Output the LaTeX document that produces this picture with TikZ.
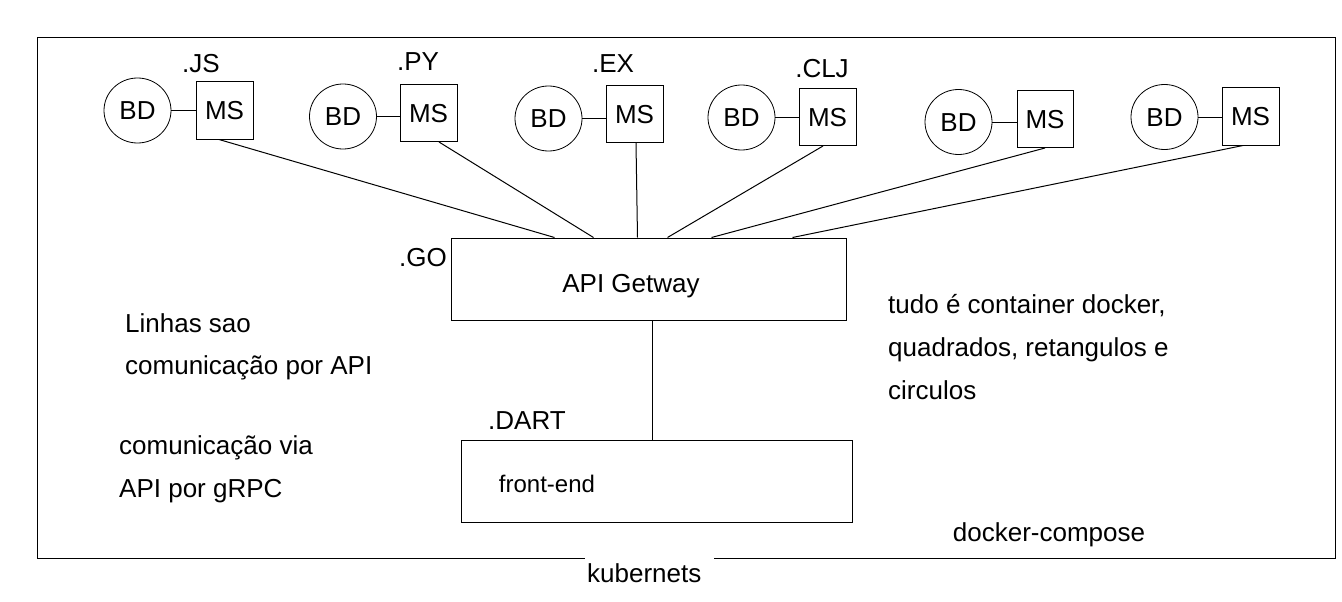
\documentclass[tikz,border=0pt]{standalone}
\usepackage{fontspec}
\setmainfont{Liberation Sans}
\usetikzlibrary{shapes.geometric}
\begin{document}
\begin{tikzpicture}[x=1pt,y=-1pt,
  txt/.style={inner sep=0pt,text height=18.6pt,text depth=0pt,font=\fontsize{26}{31}\selectfont},
  bd/.style={txt,draw,ellipse,line width=0.8pt,minimum width=67pt,minimum height=65pt},
  ms/.style={txt,draw,rectangle,line width=1pt,minimum width=57pt,minimum height=57pt},
  bigbox/.style={draw,rectangle,line width=1pt,minimum height=82pt,inner sep=0pt},
  link/.style={line width=1pt}]
\useasboundingbox (0,0) rectangle (1342,602);
% frame
\node[draw,rectangle,line width=1pt,minimum width=1298pt,minimum height=520pt,inner sep=0pt] (frame) at (686,298) {};
\node[txt,fill=white,anchor=west,inner xsep=2pt,inner ysep=8pt] (kub) at (585,573) {kubernets\kern11pt};
\node[txt] (dc) at (1049,532) {docker-compose};
% groups
\node[bd] (bd1) at (137.5,110.5) {BD};
\node[ms] (ms1) at (224.5,110.5) {MS};
\node[txt] (lb1) at (201,63) {.JS};
\node[bd] (bd2) at (343,116.5) {BD};
\node[ms] (ms2) at (428.5,113) {MS};
\node[txt] (lb2) at (418,61) {.PY};
\node[bd] (bd3) at (548.5,118.5) {BD};
\node[ms] (ms3) at (634.5,114) {MS};
\node[txt] (lb3) at (613,63) {.EX};
\node[bd] (bd4) at (741.5,117.5) {BD};
\node[ms] (ms4) at (827.5,117) {MS};
\node[txt] (lb4) at (822,68) {.CLJ};
\node[bd] (bd5) at (958.5,122) {BD};
\node[ms,minimum width=56pt] (ms5) at (1045,119) {MS};
\node[bd] (bd6) at (1164.5,117) {BD};
\node[ms] (ms6) at (1250.5,116.5) {MS};
\foreach \i in {1,...,6}{
  \draw[link] (bd\i.east) -- (bd\i.east -| ms\i.west);
}
% gateway and front-end
\node[bigbox,minimum width=395pt] (api) at (648.5,279) {};
\node[txt] (apit) at (631,283) {API Getway};
\node[txt] (go) at (423,257) {.GO};
\node[bigbox,minimum width=391pt] (fe) at (656.5,481) {};
\node[txt,font=\fontsize{24}{29}\selectfont,text height=17.2pt] (fet) at (547,484) {front-end};
\node[txt] (dart) at (527,420) {.DART};
% links
\draw[link] ([xshift=-5.5pt]ms1.south) -- ([xshift=104pt]api.north west);
\draw[link] ([xshift=10.5pt]ms2.south) -- ([xshift=143pt]api.north west);
\draw[link] ([xshift=1.5pt]ms3.south) -- ([xshift=187pt]api.north west);
\draw[link] ([xshift=-4.5pt]ms4.south) -- ([xshift=217pt]api.north west);
\draw[link] (ms5.south) -- ([xshift=261pt]api.north west);
\draw[link] ([xshift=-7.5pt]ms6.south) -- ([xshift=342pt]api.north west);
\draw[link] ([xshift=3.5pt]api.south) -- ([xshift=-4.5pt]fe.north);
% notes
\node[txt,anchor=west] (n1) at (125,323) {Linhas sao};
\node[txt,anchor=west] (n2) at (125,365) {comunicação por API};
\node[txt,anchor=west] (n3) at (119,445) {comunicação via};
\node[txt,anchor=west] (n4) at (119,488) {API por gRPC};
\node[txt,anchor=west] (r1) at (888,304) {tudo é container docker,};
\node[txt,anchor=west] (r2) at (888,347) {quadrados, retangulos e};
\node[txt,anchor=west] (r3) at (888,390) {circulos};
\end{tikzpicture}
\end{document}
